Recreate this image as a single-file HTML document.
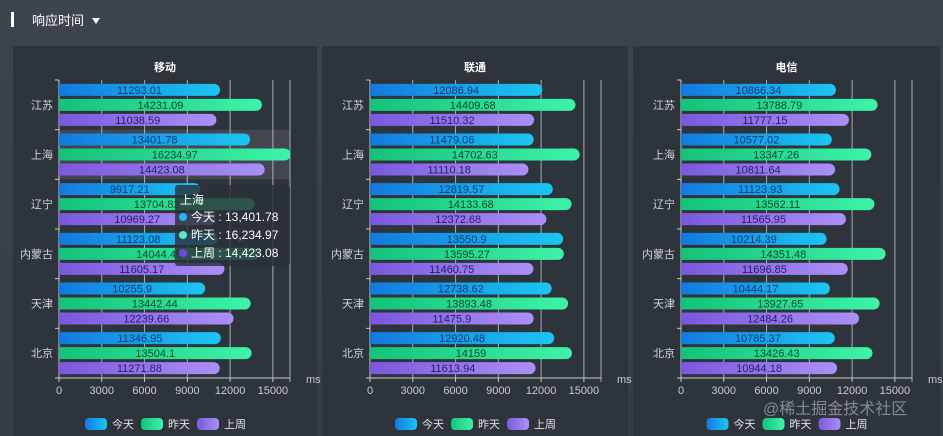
<!DOCTYPE html>
<html><head><meta charset="utf-8">
<style>
html,body{margin:0;padding:0;width:943px;height:436px;overflow:hidden;background:#3a4148;font-family:"Liberation Sans","Noto Sans CJK SC",sans-serif;}
svg{display:block}
</style></head>
<body>
<svg id="chart" width="943" height="436" xmlns="http://www.w3.org/2000/svg">
<defs>
<linearGradient id="gBlue" x1="0" x2="1" y1="0" y2="0"><stop offset="0" stop-color="#1479e0"/><stop offset="1" stop-color="#1bc6f2"/></linearGradient>
<linearGradient id="gGreen" x1="0" x2="1" y1="0" y2="0"><stop offset="0" stop-color="#14c27a"/><stop offset="1" stop-color="#3ef3a9"/></linearGradient>
<linearGradient id="gPurple" x1="0" x2="1" y1="0" y2="0"><stop offset="0" stop-color="#7a58de"/><stop offset="1" stop-color="#ab90f6"/></linearGradient>
<linearGradient id="bgGrad" x1="0" x2="0" y1="0" y2="1"><stop offset="0" stop-color="#3d444c"/><stop offset="1" stop-color="#363c43"/></linearGradient>
</defs>
<rect x="0" y="0" width="943" height="436" fill="url(#bgGrad)"/>
<rect x="11" y="12" width="3" height="15" fill="#fff"/>
<text x="32" y="25" fill="#fff" font-size="13">响应时间</text>
<path d="M92 18 L100 18 L96 24 Z" fill="#fff"/>
<g id="panels"></g>
<text x="763" y="414" fill="#9aa0a6" fill-opacity="0.8" font-size="16">@稀土掘金技术社区</text>
</svg>
<script>
const categories = ['江苏','上海','辽宁','内蒙古','天津','北京'];
const panelTitles = ['移动','联通','电信'];
const seriesNames = ['今天','昨天','上周'];
const xTicks = [0,3000,6000,9000,12000,15000];
const mobileToday = [11293.01,13401.78,9917.21,11123.08,10255.9,11346.95];
const mobileYesterday = [14231.09,16234.97,13704.82,14044.45,13442.44,13504.1];
const mobileLastWeek = [11038.59,14423.08,10969.27,11605.17,12239.66,11271.88];
const unicomToday = [12086.94,11479.06,12819.57,13550.9,12738.62,12920.48];
const unicomYesterday = [14409.68,14702.63,14133.68,13595.27,13893.48,14159];
const unicomLastWeek = [11510.32,11110.18,12372.68,11460.75,11475.9,11613.94];
const telecomToday = [10866.34,10577.02,11123.93,10214.39,10444.17,10785.37];
const telecomYesterday = [13788.79,13347.26,13562.11,14351.48,13927.65,13426.43];
const telecomLastWeek = [11777.15,10811.64,11565.95,11696.85,12484.26,10944.18];
const axisMax = 16200;

const NS='http://www.w3.org/2000/svg';
const root=document.getElementById('panels');
function mk(tag,attrs,parent,text){const e=document.createElementNS(NS,tag);for(const k in attrs)e.setAttribute(k,attrs[k]);if(text!==undefined)e.textContent=text;(parent||root).appendChild(e);return e;}
const panelData=[[mobileToday,mobileYesterday,mobileLastWeek],[unicomToday,unicomYesterday,unicomLastWeek],[telecomToday,telecomYesterday,telecomLastWeek]];
const panelX=[13,322,633], panelW=[304,306,307], zeroX=[59,370,681];
const fills=['url(#gBlue)','url(#gGreen)','url(#gPurple)'];
const labelColors=['#0b3a6e','#0b4a2e','#2a1a66'];
const plotTop=80, plotBot=378, plotW=231;
const band=(plotBot-plotTop)/categories.length;
panelData.forEach((series,p)=>{
  const g=mk('g',{});
  
  
  const x0=zeroX[p];
  const xs=v=>x0+v/axisMax*plotW;
  const ys=i=>plotTop+band*(i+0.5);
  const bg=mk('rect',{x:panelX[p],y:46,width:panelW[p],height:390,fill:'#2e343b'},g);
  
  
  const t=mk('text',{x:panelX[p]+panelW[p]/2,y:71,fill:'#fff','font-size':11,'text-anchor':'middle','font-weight':'bold'},g,panelTitles[p]);
  
  
  if(p===0){
    const hl=mk('rect',{x:x0,y:plotTop+band,width:plotW,height:band,fill:'#5a6068','fill-opacity':0.45},g);
    
    
  }
  xTicks.forEach(v=>{
    const gl=mk('line',{x1:xs(v),x2:xs(v),y1:plotTop,y2:plotBot,stroke:'#c8ccd0','stroke-width':1,'stroke-opacity':v===0?0:0.8},g);
    
    
    const tl=mk('text',{x:xs(v),y:394,fill:'#c8ccd0','font-size':11,'text-anchor':'middle'},g,String(v));
    
    
    const tk=mk('line',{x1:xs(v),x2:xs(v),y1:plotBot,y2:plotBot+4,stroke:'#c8ccd0'},g);
    
    
  });
  const endL=mk('line',{x1:x0+plotW,x2:x0+plotW,y1:plotTop,y2:plotBot+4,stroke:'#c8ccd0','stroke-opacity':0.8},g);
  
  
  const xa=mk('line',{x1:x0,x2:x0+plotW,y1:plotBot,y2:plotBot,stroke:'#c8ccd0'},g);
  
  
  const ya=mk('line',{x1:x0,x2:x0,y1:plotTop,y2:plotBot,stroke:'#c8ccd0'},g);
  
  
  const ms=mk('text',{x:x0+plotW+16,y:383,fill:'#c8ccd0','font-size':11},g,'ms');
  
  
  for(let i=0;i<=categories.length;i++){
    const yt=mk('line',{x1:x0-4,x2:x0,y1:plotTop+band*i,y2:plotTop+band*i,stroke:'#c8ccd0'},g);
    
    
  }
  categories.forEach((c,i)=>{
    const cl=mk('text',{x:x0-6,y:ys(i)+4,fill:'#d0d4d8','font-size':11,'text-anchor':'end'},g,c);
    
    
    series.forEach((arr,s)=>{
      const cy=ys(i)+(s-1)*15, h=12, w=xs(arr[i])-x0;
      const b=mk('path',{d:`M${x0} ${cy-h/2} H${x0+w-6} A6 6 0 0 1 ${x0+w} ${cy} A6 6 0 0 1 ${x0+w-6} ${cy+h/2} H${x0} Z`,fill:fills[s]},g);
      
      
      const bl=mk('text',{x:x0+w/2,y:cy+4,fill:labelColors[s],'font-size':11,'text-anchor':'middle'},g,String(arr[i]));
      
      
    });
  });
  const legX=panelX[p]+panelW[p]/2-80;
  seriesNames.forEach((n,s)=>{
    const lx=legX+s*56;
    const lr=mk('rect',{x:lx,y:418,width:22,height:12,rx:4,fill:fills[s]},g);
    
    
    const lt=mk('text',{x:lx+27,y:428,fill:'#e0e3e6','font-size':11},g,n);
    
    
  });
  if(p===0){
    const tg=mk('g',{},g);
    
    
    const tr=mk('rect',{x:175,y:185,width:115,height:81,rx:3,fill:'#2b3138','fill-opacity':0.82},tg);
    
    
    const tt=mk('text',{x:180,y:204,fill:'#fff','font-size':12},tg,categories[1]);
    
    
    const dots=['#1fb8f0','#5ee8c0','#6a4ae0'];
    series.forEach((arr,s)=>{
      const yy=221+s*18;
      const d=mk('circle',{cx:183,cy:yy-4,r:4,fill:dots[s]},tg);
      
      
      const txt=seriesNames[s]+' : '+arr[1].toLocaleString('en-US',{minimumFractionDigits:2});
      const tx=mk('text',{x:191,y:yy,fill:'#fff','font-size':12},tg,txt);
      
      
    });
  }
});
</script>
</body></html>
